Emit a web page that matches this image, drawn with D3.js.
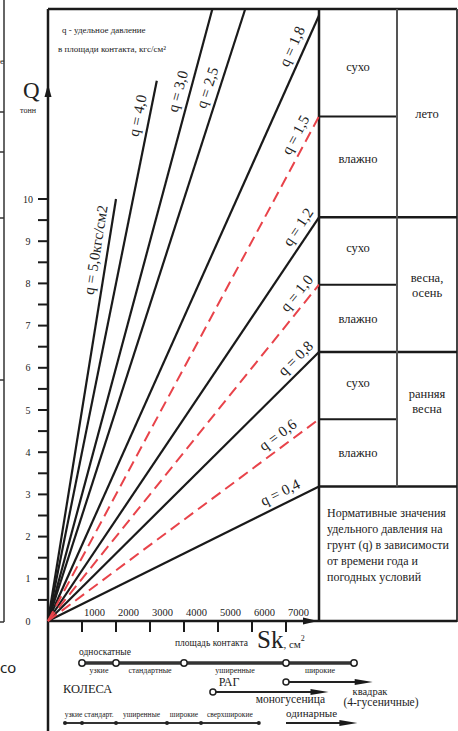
<!DOCTYPE html>
<html>
<head>
<meta charset="utf-8">
<script src="https://cdn.jsdelivr.net/npm/d3@7"></script>
<style>
  body { margin: 0; background: #fff; }
  svg { display: block; }
</style>
</head>
<body>
<svg id="chart" width="458" height="731" font-family="'Liberation Serif', 'DejaVu Serif', 'Times New Roman', serif" fill="#222"></svg>
<script>
// ---- data ----
// удельное давление q (кгс/см2): сплошные и пунктирные (красные) линии
const solidQ = [0.4, 0.8, 1.2, 1.8, 2.5, 3.0, 4.0, 5.0];
const dashedQ = [0.6, 1.0, 1.5];
// линии, которые обрываются раньше рамки: q -> Q (тонн)
const stopQ = { 4.0: 12.8, 5.0: 10 };
// где по Sk стоит подпись линии
const labelSk = { 0.4: 6985, 0.6: 6970, 0.8: 7530, 1.0: 7590, 1.2: 7650, 1.5: 7590,
                  1.8: 7500, 2.5: 5020, 3.0: 4160, 4.0: 2980, 5.0: 1750 };

const yTicks = d3.range(0, 11);
const yHalfTicks = d3.range(0.5, 10, 1);
const xTicks = [1000, 2000, 3000, 4000, 5000, 6000, 7000];

// таблица справа: границы по q
const seasons = [
    { name: ["лето"], from: null, split: 1.5, to: 1.2 },
    { name: ["весна,", "осень"], from: 1.2, split: 1.0, to: 0.8 },
    { name: ["ранняя", "весна"], from: 0.8, split: 0.6, to: 0.4 }
];
const noteLines = ["Нормативные значения", "удельного давления на", "грунт (q) в зависимости",
                   "от времени года и", "погодных условий"];

// ходовые системы по площади контакта Sk
const wheelBreaks = [1000, 2000, 4000, 7000, 9000];
const wheelTypes = ["узкие", "стандартные", "уширенные", "широкие"];
const ragRange = [4850, 8250];
const quadRange = [7000, 9550];
const trackBreaks = [500, 1000, 2000, 3500, 4500, 6200];
const trackTypes = ["узкие", "стандарт.", "уширенные", "широкие", "сверхширокие"];
const singleRange = [7000, 9100];

// ---- layout ----
const svg = d3.select("#chart");
const x = d3.scaleLinear().domain([0, 7000]).range([48, 286]);
const y = d3.scaleLinear().domain([0, 10]).range([621, 199]);
const F = { left: 48, top: 9, mid: 319, col: 397, right: 457, bottom: 622 };
const skEdge = x.invert(F.mid);
const qTop = y.invert(F.top);
const ink = "#1a1a1a";

function arrowHead(g, xTip, yy, len, half) {
    g.append("path")
        .attr("d", `M${xTip},${yy} L${xTip - len},${yy - half} L${xTip - len},${yy + half} Z`)
        .attr("fill", ink);
}

// ---- край соседней таблицы слева ----
const edge = svg.append("g").attr("stroke", "#333").attr("stroke-width", 1.5);
edge.append("line").attr("x1", 4).attr("x2", 4).attr("y1", 0).attr("y2", F.bottom);
edge.append("line").attr("x1", 0).attr("x2", 4).attr("y1", F.bottom).attr("y2", F.bottom);
[112, 152, 218, 380].forEach(v => {
    edge.append("line").attr("x1", 0).attr("x2", 4).attr("y1", v).attr("y2", v);
});
svg.append("text").attr("x", 0).attr("y", 64).attr("font-size", 9).text("е");
svg.append("text").attr("x", 0).attr("y", 673)
    .attr("font-family", "'Noto Sans', sans-serif").attr("font-size", 15).text("со");

// ---- рамка ----
const frame = svg.append("g").attr("stroke", ink).attr("stroke-width", 2.5);
frame.append("line").attr("x1", F.left).attr("x2", F.right).attr("y1", F.top).attr("y2", F.top);
frame.append("line").attr("x1", F.left).attr("x2", F.left).attr("y1", F.top).attr("y2", 731);
frame.append("line").attr("x1", F.mid).attr("x2", F.mid).attr("y1", F.top).attr("y2", F.bottom);
frame.append("line").attr("x1", F.right).attr("x2", F.right).attr("y1", F.top).attr("y2", F.bottom)
    .attr("stroke", "#444").attr("stroke-width", 2);
frame.append("line").attr("x1", F.left).attr("x2", F.right).attr("y1", y(0)).attr("y2", y(0));

// ---- ось Q ----
const yAxis = svg.append("g");
yTicks.filter(d => d > 0).concat(yHalfTicks).forEach(d => {
    yAxis.append("line").attr("x1", 38).attr("x2", F.left).attr("y1", y(d)).attr("y2", y(d))
        .attr("stroke", ink).attr("stroke-width", 2);
});
yTicks.forEach(d => {
    yAxis.append("text").attr("x", 28).attr("y", y(d)).attr("dy", "0.35em")
        .attr("text-anchor", "middle").attr("font-size", 10).text(d);
});
svg.append("path").attr("d", `M${F.left},84 L${F.left - 3.5},97 L${F.left + 3.5},97 Z`).attr("fill", ink);
svg.append("text").attr("x", 23).attr("y", 98).attr("font-size", 23).text("Q");
svg.append("text").attr("x", 28).attr("y", 113).attr("text-anchor", "middle").attr("font-size", 8).text("тонн");

// ---- ось Sk ----
xTicks.forEach(d => {
    svg.append("line").attr("x1", x(d)).attr("x2", x(d)).attr("y1", y(0)).attr("y2", y(0) + 11)
        .attr("stroke", ink).attr("stroke-width", 2);
    svg.append("text").attr("x", x(d) + 2).attr("y", y(0) - 5).attr("font-size", 10.5).text(d);
});
arrowHead(svg, F.mid - 1, y(0), 15, 3.5);
svg.append("text").attr("x", 175).attr("y", 646).attr("font-size", 9.5).text("площадь контакта");
const sk = svg.append("text").attr("x", 257).attr("y", 648);
sk.append("tspan").attr("font-size", 25).text("Sk");
sk.append("tspan").attr("font-size", 11).text(", см");
sk.append("tspan").attr("font-size", 8).attr("dy", -7).text("2");

// ---- пояснение ----
svg.append("text").attr("x", 62).attr("y", 33).attr("font-size", 9).text("q - удельное давление");
svg.append("text").attr("x", 58).attr("y", 52).attr("font-size", 9).text("в площади контакта, кгс/см²");

// ---- линии q ----
function lineEnd(q) {
    const qEnd = stopQ[q] !== undefined ? stopQ[q] : qTop;
    const s = Math.min(skEdge, qEnd / q * 1000);
    return [s, q * s / 1000];
}
const path = d3.line().x(d => x(d[0])).y(d => y(d[1]));

const lines = svg.append("g").attr("fill", "none");
solidQ.forEach(q => {
    lines.append("path").datum([[0, 0], lineEnd(q)]).attr("d", path)
        .attr("stroke", ink).attr("stroke-width", 2.2);
});
dashedQ.forEach(q => {
    lines.append("path").datum([[0, 0], lineEnd(q)]).attr("d", path)
        .attr("stroke", "#e8434a").attr("stroke-width", 2).attr("stroke-dasharray", "11,6");
});

const labels = svg.append("g");
solidQ.concat(dashedQ).forEach(q => {
    const s = labelSk[q];
    const px = x(s), py = y(q * s / 1000);
    const a = Math.atan2(y(0) - py, px - x(0));
    const off = 12;
    const cx = px - Math.sin(a) * off, cy = py - Math.cos(a) * off;
    const txt = "q = " + q.toFixed(1).replace(".", ",") + (q === 5.0 ? "кгс/см2" : "");
    labels.append("text")
        .attr("transform", `translate(${cx},${cy}) rotate(${-a * 180 / Math.PI})`)
        .attr("text-anchor", "middle").attr("dominant-baseline", "central")
        .attr("font-size", 15).text(txt);
});

// ---- таблица ----
const rowY = q => q === null ? F.top : y(q * skEdge / 1000);
const table = svg.append("g");
seasons.forEach((s, i) => {
    const y0 = rowY(s.from), y1 = rowY(s.split), y2 = rowY(s.to);
    table.append("line").attr("x1", F.mid).attr("x2", F.col).attr("y1", y1).attr("y2", y1)
        .attr("stroke", ink).attr("stroke-width", 2);
    table.append("line").attr("x1", F.mid).attr("x2", F.right).attr("y1", y2).attr("y2", y2)
        .attr("stroke", ink).attr("stroke-width", 2.5);
    table.append("line").attr("x1", F.col).attr("x2", F.col).attr("y1", y0).attr("y2", y2)
        .attr("stroke", "#555").attr("stroke-width", 2);
    table.append("text").attr("x", (F.mid + F.col) / 2).attr("y", (y0 + y1) / 2 + (i === 0 ? 4 : -3))
        .attr("dy", "0.35em").attr("text-anchor", "middle").attr("font-size", 12.5).text("сухо");
    table.append("text").attr("x", (F.mid + F.col) / 2).attr("y", (y1 + y2) / 2 - (i === 0 ? 8 : 0))
        .attr("dy", "0.35em").attr("text-anchor", "middle").attr("font-size", 12.5).text("влажно");
    const cy = (y0 + y2) / 2 - (i === 2 ? 18 : 0);
    s.name.forEach((n, k) => {
        table.append("text").attr("x", (F.col + F.right) / 2)
            .attr("y", cy + (k - (s.name.length - 1) / 2) * 15)
            .attr("dy", "0.35em").attr("text-anchor", "middle").attr("font-size", 12.5).text(n);
    });
});
noteLines.forEach((t, i) => {
    table.append("text").attr("x", 327).attr("y", 517 + i * 16).attr("font-size", 12).text(t);
});

// ---- ходовые системы ----
const bottom = svg.append("g");
// колеса
bottom.append("line").attr("x1", x(wheelBreaks[0])).attr("x2", x(wheelBreaks[wheelBreaks.length - 1]))
    .attr("y1", 663).attr("y2", 663).attr("stroke", "#333").attr("stroke-width", 3.5);
wheelBreaks.forEach(d => {
    bottom.append("circle").attr("cx", x(d)).attr("cy", 663).attr("r", 3.2)
        .attr("fill", "#fff").attr("stroke", "#222").attr("stroke-width", 1.5);
});
wheelTypes.forEach((t, i) => {
    bottom.append("text").attr("x", (x(wheelBreaks[i]) + x(wheelBreaks[i + 1])) / 2).attr("y", 673)
        .attr("text-anchor", "middle").attr("font-size", 8).text(t);
});
bottom.append("text").attr("x", 105).attr("y", 655).attr("text-anchor", "middle").attr("font-size", 9.5).text("односкатные");
bottom.append("text").attr("x", 63).attr("y", 693).attr("font-size", 12.5).text("КОЛЕСА");

// РАГ / моногусеница
bottom.append("line").attr("x1", x(ragRange[0])).attr("x2", x(ragRange[1]) - 10)
    .attr("y1", 692).attr("y2", 692).attr("stroke", "#222").attr("stroke-width", 2.2);
arrowHead(bottom, x(ragRange[1]), 692, 18, 3);
bottom.append("circle").attr("cx", x(ragRange[0])).attr("cy", 692).attr("r", 3)
    .attr("fill", "#fff").attr("stroke", "#222").attr("stroke-width", 1.5);
bottom.append("text").attr("x", 229).attr("y", 686).attr("text-anchor", "middle").attr("font-size", 12).text("РАГ");
bottom.append("text").attr("x", 325).attr("y", 703).attr("text-anchor", "end").attr("font-size", 11.5).text("моногусеница");

// квадрак
bottom.append("line").attr("x1", x(quadRange[0])).attr("x2", x(quadRange[1]) - 10)
    .attr("y1", 682).attr("y2", 682).attr("stroke", "#222").attr("stroke-width", 2.2);
arrowHead(bottom, x(quadRange[1]), 682, 18, 3);
bottom.append("circle").attr("cx", x(quadRange[0])).attr("cy", 682).attr("r", 3)
    .attr("fill", "#fff").attr("stroke", "#222").attr("stroke-width", 1.5);
bottom.append("text").attr("x", 370).attr("y", 695).attr("text-anchor", "middle").attr("font-size", 10.5).text("квадрак");
bottom.append("text").attr("x", 381).attr("y", 706).attr("text-anchor", "middle").attr("font-size", 11.5).text("(4-гусеничные)");

// гусеницы
bottom.append("line").attr("x1", x(trackBreaks[0])).attr("x2", x(trackBreaks[trackBreaks.length - 1]))
    .attr("y1", 723).attr("y2", 723).attr("stroke", "#333").attr("stroke-width", 2);
trackBreaks.forEach(d => {
    bottom.append("circle").attr("cx", x(d)).attr("cy", 723).attr("r", 2).attr("fill", "#222");
});
trackTypes.forEach((t, i) => {
    bottom.append("text").attr("x", (x(trackBreaks[i]) + x(trackBreaks[i + 1])) / 2).attr("y", 717)
        .attr("text-anchor", "middle").attr("font-size", 7.5).text(t);
});
bottom.append("line").attr("x1", x(singleRange[0])).attr("x2", x(singleRange[1]) - 10)
    .attr("y1", 723).attr("y2", 723).attr("stroke", "#222").attr("stroke-width", 2);
arrowHead(bottom, x(singleRange[1]), 723, 18, 3);
bottom.append("text").attr("x", x(singleRange[0])).attr("y", 717).attr("font-size", 11).text("одинарные");
</script>
</body>
</html>
